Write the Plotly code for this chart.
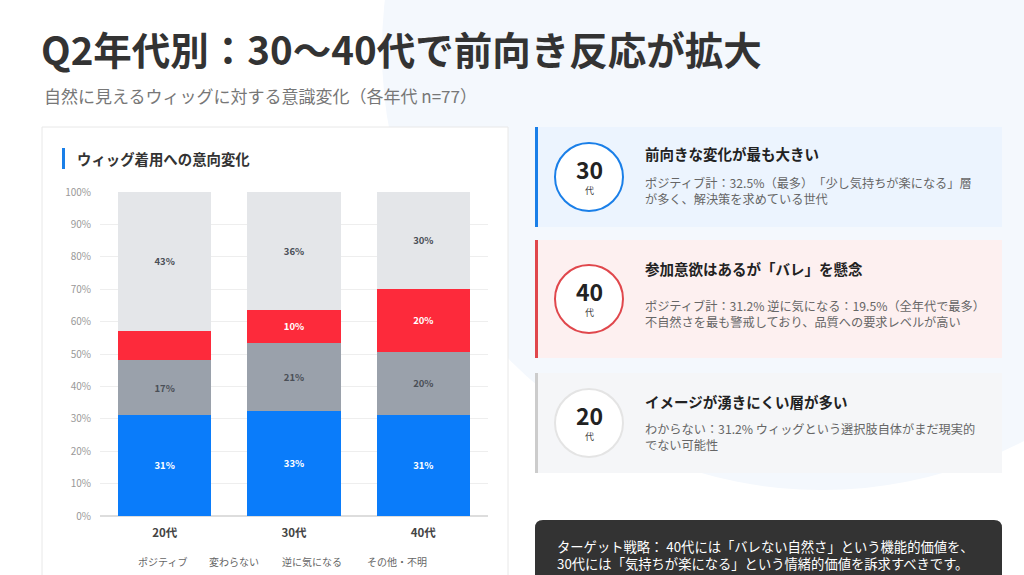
import math
import plotly.graph_objects as go

# data
ages = ["20代", "30代", "40代"]
series_names = ["ポジティブ", "変わらない", "逆に気になる", "その他・不明"]
positive = [31.2, 32.5, 31.2]
no_change = [16.9, 20.8, 19.5]
concerned = [9.1, 10.4, 19.5]
other = [42.8, 36.3, 29.8]
y_ticks = [0, 10, 20, 30, 40, 50, 60, 70, 80, 90, 100]
y_tick_text = [f"{v}%" for v in y_ticks]

colors = ["#0a7cfa", "#9aa1ab", "#fd2a3b", "#e4e6e9"]
label_colors = ["#ffffff", "#4a4f57", "#ffffff", "#4a4f57"]

FONT = "Noto Sans CJK JP"
W, H = 1024, 575
L, R, T, B = 100, 536, 192, 59
PW, PH = W - L - R, H - T - B


def px(x):
    return (x - L) / PW


def py(y):
    return (H - B - y) / PH


def pct(v):
    return f"{math.floor(v + 0.5)}%"


fig = go.Figure()
for name, vals, col, lc in zip(series_names, [positive, no_change, concerned, other], colors, label_colors):
    fig.add_trace(go.Bar(
        x=ages, y=vals, name=name, marker=dict(color=col, line=dict(width=0)),
        text=[pct(v) if v >= 10 else "" for v in vals],
        textposition="inside", insidetextanchor="middle", textangle=0,
        textfont=dict(color=lc, size=9.5, family=FONT, weight="bold"),
        hoverinfo="skip",
    ))

shapes = []
# big pale circle in the background
shapes.append(dict(type="circle", xref="paper", yref="paper", layer="below",
                   x0=px(382), x1=px(1262), y0=py(490), y1=py(-390),
                   fillcolor="#f4f8fd", line=dict(width=0)))
# chart card
shapes.append(dict(type="rect", xref="paper", yref="paper", layer="below",
                   x0=px(42), x1=px(508), y0=py(127), y1=py(600),
                   fillcolor="#ffffff", line=dict(color="#e8e8e8", width=1)))
shapes.append(dict(type="rect", xref="paper", yref="paper", layer="below",
                   x0=px(62), x1=px(65), y0=py(148), y1=py(169),
                   fillcolor="#1a7fe8", line=dict(width=0)))

# right-hand cards
cards = [
    dict(top=127, bot=227, bg="#ecf4fe", edge="#1a7fe8", ring="#1a7fe8", cy=177,
         num="30", title="前向きな変化が最も大きい", ty=154,
         lines=["ポジティブ計：32.5%（最多）　「少し気持ちが楽になる」層", "が多く、解決策を求めている世代"], ly=191),
    dict(top=240, bot=358, bg="#fdf0f0", edge="#e0474c", ring="#e0474c", cy=299,
         num="40", title="参加意欲はあるが「バレ」を懸念", ty=268,
         lines=["ポジティブ計：31.2% 逆に気になる：19.5%（全年代で最多）", "不自然さを最も警戒しており、品質への要求レベルが高い"], ly=314),
    dict(top=373, bot=473, bg="#f5f6f8", edge="#cccccc", ring="#e4e4e4", cy=423,
         num="20", title="イメージが湧きにくい層が多い", ty=401,
         lines=["わからない：31.2% ウィッグという選択肢自体がまだ現実的", "でない可能性"], ly=437),
]

annotations = []
for c in cards:
    shapes.append(dict(type="rect", xref="paper", yref="paper", layer="below",
                       x0=px(535), x1=px(1002), y0=py(c["bot"]), y1=py(c["top"]),
                       fillcolor=c["bg"], line=dict(width=0)))
    shapes.append(dict(type="rect", xref="paper", yref="paper", layer="below",
                       x0=px(535), x1=px(538), y0=py(c["bot"]), y1=py(c["top"]),
                       fillcolor=c["edge"], line=dict(width=0)))
    shapes.append(dict(type="circle", xref="paper", yref="paper", layer="below",
                       x0=px(555), x1=px(623), y0=py(c["cy"] + 34), y1=py(c["cy"] - 34),
                       fillcolor="#ffffff", line=dict(color=c["ring"], width=2)))
    annotations.append(dict(x=px(589), y=py(c["cy"] - 8), text=f"<b>{c['num']}</b>",
                            font=dict(size=23, color="#222222", family=FONT)))
    annotations.append(dict(x=px(589), y=py(c["cy"] + 13), text="代",
                            font=dict(size=9, color="#444444", family=FONT)))
    annotations.append(dict(x=px(643), y=py(c["ty"]), text=f"<b>{c['title']}</b>", xanchor="left",
                            font=dict(size=14.5, color="#222222", family=FONT)))
    annotations.append(dict(x=px(643), y=py(c["ly"]), text="<br>".join(c["lines"]),
                            xanchor="left", align="left",
                            font=dict(size=12.2, color="#666666", family=FONT)))

# dark strategy box with rounded corners
x0, x1, y0, y1, r = px(535), px(1002), py(520), py(600), 8
rx, ry = r / PW, r / PH
path = (f"M {x0 + rx},{y0} L {x1 - rx},{y0} Q {x1},{y0} {x1},{y0 - ry} "
        f"L {x1},{y1} L {x0},{y1} L {x0},{y0 - ry} Q {x0},{y0} {x0 + rx},{y0} Z")
shapes.append(dict(type="path", xref="paper", yref="paper", path=path, layer="above",
                   fillcolor="#333333", line=dict(width=0)))
annotations.append(dict(x=px(555), y=py(555), xanchor="left", align="left",
                        text="ターゲット戦略： 40代には「バレない自然さ」という機能的価値を、<br>"
                             "30代には「気持ちが楽になる」という情緒的価値を訴求すべきです。",
                        font=dict(size=13.3, color="#ffffff", family=FONT)))

# headings
annotations.append(dict(x=px(39), y=py(48), xanchor="left",
                        text="<b>Q2年代別：30〜40代で前向き反応が拡大</b>",
                        font=dict(size=38.5, color="#333333", family=FONT)))
annotations.append(dict(x=px(42), y=py(95), xanchor="left",
                        text="自然に見えるウィッグに対する意識変化（各年代 n=77）",
                        font=dict(size=17, color="#777777", family=FONT)))
annotations.append(dict(x=px(75), y=py(158), xanchor="left",
                        text="<b>ウィッグ着用への意向変化</b>",
                        font=dict(size=14.4, color="#333333", family=FONT)))

# legend labels (no swatches in the reference)
for name, xc in zip(series_names, [162, 234, 312, 397]):
    annotations.append(dict(x=px(xc), y=py(561), text=name,
                            font=dict(size=10, color="#666666", family=FONT)))

for a in annotations:
    a.setdefault("xanchor", "center")
    a.update(xref="paper", yref="paper", yanchor="middle", showarrow=False)

fig.update_layout(
    width=W, height=H,
    margin=dict(l=L, r=R, t=T, b=B),
    barmode="stack", bargap=0.28,
    paper_bgcolor="#ffffff", plot_bgcolor="rgba(0,0,0,0)",
    showlegend=False,
    shapes=shapes, annotations=annotations,
    font=dict(family=FONT),
    uniformtext=dict(minsize=9, mode="show"),
)
fig.update_yaxes(range=[0, 100], tickvals=y_ticks, ticktext=y_tick_text,
                 tickfont=dict(size=10, color="#999999"), gridcolor="#eeeeee",
                 zeroline=True, zerolinecolor="#dddddd", ticks="", ticklen=0,
                 ticklabelstandoff=8)
fig.update_xaxes(tickfont=dict(size=11.5, color="#444444", weight="bold"), ticks="",
                 showline=False, ticklabelstandoff=8)

fig.write_html("out.html", config={"displayModeBar": False},
               post_script="document.body.style.margin='0';")
